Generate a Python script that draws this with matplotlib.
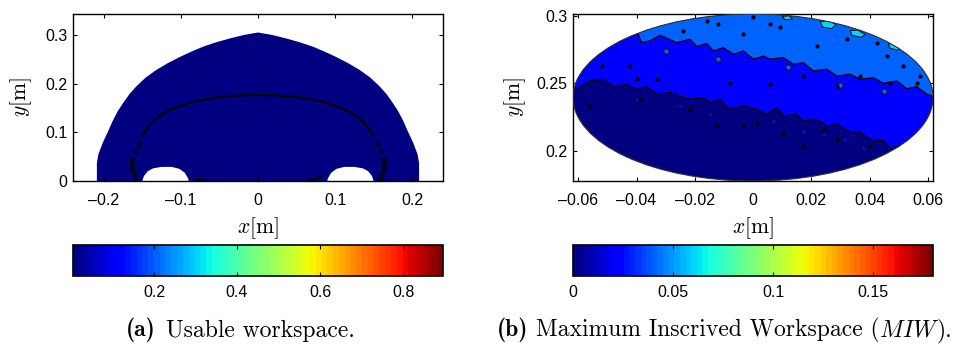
import matplotlib as mpl
import matplotlib.pyplot as plt
from matplotlib.patches import Polygon, Circle
from matplotlib.colors import Normalize
from matplotlib.cm import ScalarMappable
from matplotlib.ticker import FuncFormatter

plt.rcParams['font.family'] = ['Liberation Sans', 'DejaVu Sans']
plt.rcParams['mathtext.fontset'] = 'cm'
plt.rcParams['font.size'] = 11.5

jet = mpl.colormaps['jet'].resampled(64)

# ---------------- (a) usable workspace ----------------
# left half of the outer boundary (mirrored for the right half)
ws_outline_x = [-0.209, -0.209, -0.207, -0.2017, -0.198, -0.195, -0.188, -0.182, -0.175, -0.167,
                -0.158, -0.146, -0.132, -0.117, -0.101, -0.086, -0.071, -0.054, -0.036, -0.018, 0.0]
ws_outline_y = [0.0, 0.037, 0.055, 0.077, 0.090, 0.100, 0.125, 0.143, 0.160, 0.178,
                0.194, 0.212, 0.228, 0.242, 0.255, 0.266, 0.276, 0.285, 0.293, 0.300, 0.305]
# left hole at the base (mirrored for the right one)
hole_x = [-0.150, -0.148, -0.143, -0.136, -0.125, -0.112, -0.102, -0.095, -0.0905, -0.090]
hole_y = [0.0, 0.010, 0.020, 0.026, 0.029, 0.029, 0.025, 0.017, 0.005, 0.0]
# left half of the ring of singular points
ring_x = [-0.158, -0.161, -0.163, -0.164, -0.163, -0.160, -0.155, -0.150, -0.142, -0.132,
          -0.118, -0.100, -0.084, -0.060, -0.041, -0.020, 0.0]
ring_y = [0.005, 0.015, 0.025, 0.035, 0.045, 0.062, 0.077, 0.094, 0.112, 0.128,
          0.143, 0.155, 0.163, 0.170, 0.174, 0.176, 0.1766]
# short marks on the base
foot_x = [[-0.080, -0.073, -0.066], [0.066, 0.074, 0.082]]
foot_y = [[0.004, 0.002, 0.0], [0.0, 0.004, 0.009]]
ws_value = 0.005
ws_clim = (0.005, 0.896)
ws_xticks = [-0.2, -0.1, 0, 0.1, 0.2]
ws_yticks = [0, 0.1, 0.2, 0.3]
ws_cticks = [0.2, 0.4, 0.6, 0.8]

# ---------------- (b) maximum inscribed workspace ----------------
miw_center = (0.0, 0.2395)
miw_radius = 0.0618
miw_levels = [0.0, 0.02, 0.04, 0.06]
miw_clim = (0.0, 0.18)
# contour between level 0 and 0.02
b1_x = [-0.066, -0.0600, -0.0560, -0.0514, -0.0480, -0.0434, -0.0400, -0.0366, -0.0331, -0.0285,
        -0.0251, -0.0216, -0.0171, -0.0148, -0.0113, -0.0079, -0.0033, 0.0013, 0.0047, 0.0081,
        0.0104, 0.0150, 0.0173, 0.0219, 0.0253, 0.0288, 0.0322, 0.0368, 0.0402, 0.0448,
        0.0471, 0.0516, 0.0562, 0.0608, 0.066]
b1_y = [0.2465, 0.2468, 0.2517, 0.2530, 0.2475, 0.2493, 0.2456, 0.2475, 0.2419, 0.2431,
        0.2406, 0.2381, 0.2394, 0.2357, 0.2381, 0.2307, 0.2332, 0.2307, 0.2270, 0.2320,
        0.2258, 0.2270, 0.2221, 0.2233, 0.2184, 0.2196, 0.2147, 0.2135, 0.2085, 0.2073,
        0.2023, 0.2036, 0.1974, 0.1937, 0.1900]
# contour between level 0.02 and 0.04
b2_x = [-0.045, -0.0394, -0.0383, -0.0354, -0.0319, -0.0262, -0.0216, -0.0193, -0.0159, -0.0136,
        -0.0102, -0.0067, -0.0033, 0.0001, 0.0035, 0.0058, 0.0104, 0.0139, 0.0173, 0.0207,
        0.0253, 0.0288, 0.0333, 0.0368, 0.0413, 0.0448, 0.0494, 0.0528, 0.0562, 0.0597,
        0.0631, 0.066]
b2_y = [0.2900, 0.2863, 0.2801, 0.2814, 0.2856, 0.2801, 0.2826, 0.2772, 0.2796, 0.2740,
        0.2764, 0.2715, 0.2740, 0.2678, 0.2702, 0.2678, 0.2690, 0.2641, 0.2653, 0.2591,
        0.2604, 0.2554, 0.2567, 0.2530, 0.2542, 0.2500, 0.2517, 0.2460, 0.2475, 0.2419,
        0.2394, 0.2370]
# patches at level 0.06
cyan_patches = [
    ([0.023, 0.026, 0.0285, 0.027, 0.024], [0.2955, 0.2965, 0.2935, 0.2905, 0.2915]),
    ([0.0333, 0.036, 0.0385, 0.037, 0.034], [0.2890, 0.2895, 0.2860, 0.2840, 0.2855]),
    ([0.0465, 0.049, 0.051, 0.0495, 0.047], [0.2790, 0.2800, 0.2770, 0.2745, 0.2760]),
    ([0.0100, 0.0125, 0.0135, 0.011], [0.2995, 0.3000, 0.2975, 0.2970]),
]
# small closed contours (noise)
dots_x = [-0.052, -0.0423, -0.0239, -0.0159, -0.0119, -0.0033, 0.0001, 0.0058, 0.0093, 0.0219,
          0.0322, 0.0425, 0.0459, 0.0516, 0.0574, -0.040, -0.0331, -0.0079, 0.0058, 0.0173,
          0.0288, 0.0368, 0.047, 0.0562, -0.0033, -0.0125, 0.0173, 0.0288, 0.040, -0.056,
          -0.0388, -0.0216, 0.0013, 0.0104, 0.0242]
dots_y = [0.2628, 0.2628, 0.2887, 0.2961, 0.2937, 0.2863, 0.2987, 0.2937, 0.2913, 0.2776,
          0.2826, 0.2801, 0.2702, 0.2628, 0.2554, 0.2530, 0.2530, 0.2505, 0.2493, 0.2554,
          0.2480, 0.2554, 0.2505, 0.2505, 0.2184, 0.2184, 0.2036, 0.2085, 0.2036, 0.2332,
          0.2381, 0.2307, 0.2209, 0.2135, 0.2159]
# level-0.02 islands inside the lowest band
isl1_x = [0.0070, 0.0173, 0.0242, 0.0311, 0.0379, -0.0148, -0.0251, -0.040]
isl1_y = [0.2221, 0.2147, 0.2122, 0.2085, 0.2023, 0.2270, 0.2332, 0.2381]
# level-0.04 islands inside the second band
isl2_x = [-0.030, -0.012, 0.012, 0.030, 0.045]
isl2_y = [0.2740, 0.2680, 0.2620, 0.2490, 0.2440]
miw_xticks = [-0.06, -0.04, -0.02, 0, 0.02, 0.04, 0.06]
miw_yticks = [0.2, 0.25, 0.3]
miw_cticks = [0, 0.05, 0.1, 0.15]

fmt = FuncFormatter(lambda v, p: f'{v:g}'.replace('-', '\u2013'))

fig = plt.figure(figsize=(9.77, 3.47), dpi=100)
ax1 = fig.add_axes([0.0747, 0.4784, 0.3787, 0.4813])
ax2 = fig.add_axes([0.5865, 0.4784, 0.3685, 0.4813])
cax1 = fig.add_axes([0.0747, 0.2055, 0.3787, 0.0885])
cax2 = fig.add_axes([0.5865, 0.2055, 0.3685, 0.0885])

# ---- panel (a)
ws_norm = Normalize(*ws_clim)
fx = ws_outline_x + [-v for v in reversed(ws_outline_x[:-1])]
fy = ws_outline_y + list(reversed(ws_outline_y[:-1]))
ax1.add_patch(Polygon(list(zip(fx, fy)), closed=True, facecolor=jet(ws_norm(ws_value)),
                      edgecolor='none', zorder=1))
for sx in (1, -1):
    hx = [sx * v for v in hole_x]
    ax1.add_patch(Polygon(list(zip(hx, hole_y)), closed=True, facecolor='white',
                          edgecolor='none', zorder=2))
rx = ring_x + [-v for v in reversed(ring_x[:-1])]
ry = ring_y + list(reversed(ring_y[:-1]))
upper = [i for i, v in enumerate(ry) if v >= 0.09]
lower = [i for i, v in enumerate(ry) if v < 0.09]
ax1.plot([rx[i] for i in upper], [ry[i] for i in upper], '-', color='black', lw=1.5, zorder=3)
ax1.plot([rx[i] for i in lower], [ry[i] for i in lower], 'o', ms=3.2, mfc='#000040',
         mec='black', mew=0.6, zorder=4)
for fxs, fys in zip(foot_x, foot_y):
    ax1.plot(fxs, fys, color='black', lw=1.6, zorder=3)
ax1.set_xlim(-0.24, 0.24)
ax1.set_ylim(0, 0.343)
ax1.set_xticks(ws_xticks)
ax1.set_yticks(ws_yticks)

# ---- panel (b)
miw_norm = Normalize(*miw_clim)
base = Circle(miw_center, miw_radius, facecolor=jet(miw_norm(miw_levels[0])),
              edgecolor='none', zorder=1)
ax2.add_patch(base)
top = miw_center[1] + 2 * miw_radius
p1 = Polygon(list(zip(b1_x, b1_y)) + [(b1_x[-1], top), (b1_x[0], top)], closed=True,
             facecolor=jet(miw_norm(miw_levels[1])), edgecolor='none', zorder=2)
p2 = Polygon(list(zip(b2_x, b2_y)) + [(b2_x[-1], top), (b2_x[0], top)], closed=True,
             facecolor=jet(miw_norm(miw_levels[2])), edgecolor='none', zorder=3)
for p in (p1, p2):
    ax2.add_patch(p)
    p.set_clip_path(base)
for cx, cy in cyan_patches:
    pc = Polygon(list(zip(cx, cy)), closed=True, facecolor=jet(miw_norm(miw_levels[3])),
                 edgecolor='black', lw=0.7, zorder=4)
    ax2.add_patch(pc)
    pc.set_clip_path(base)
clipped = []
for bx, by in ((b1_x, b1_y), (b2_x, b2_y)):
    clipped += ax2.plot(bx, by, color='black', lw=0.9, zorder=5, solid_joinstyle='round')
clipped += ax2.plot(isl1_x, isl1_y, 'o', ms=4, mfc=jet(miw_norm(miw_levels[1])), mec='black',
                    mew=0.7, zorder=6)
clipped += ax2.plot(isl2_x, isl2_y, 'o', ms=4, mfc=jet(miw_norm(miw_levels[2])), mec='black',
                    mew=0.7, zorder=6)
clipped += ax2.plot(dots_x, dots_y, 'o', ms=2.0, color='black', zorder=6)
for art in clipped:
    art.set_clip_path(base)
ax2.add_patch(Circle(miw_center, miw_radius, fill=False, edgecolor='0.2', lw=0.8, zorder=7))
ax2.set_xlim(miw_center[0] - miw_radius, miw_center[0] + miw_radius)
ax2.set_ylim(miw_center[1] - miw_radius, miw_center[1] + miw_radius)
ax2.set_xticks(miw_xticks)
ax2.set_yticks(miw_yticks)

for ax, ylx in ((ax1, -0.139), (ax2, -0.161)):
    ax.xaxis.set_major_formatter(fmt)
    ax.yaxis.set_major_formatter(fmt)
    ax.tick_params(direction='in', top=True, right=True, length=3, width=0.8)
    ax.tick_params(axis='x', pad=9)
    ax.tick_params(axis='y', pad=4)
    for s in ax.spines.values():
        s.set_linewidth(1.0)
    ax.set_xlabel(r'$x[\mathrm{m}]$', fontsize=15.5)
    ax.set_ylabel(r'$y[\mathrm{m}]$', fontsize=15.5)
    ax.xaxis.set_label_coords(0.5, -0.28)
    ax.xaxis.label.set_va('center')
    ax.yaxis.set_label_coords(ylx, 0.5)
    ax.yaxis.label.set_va('center')

# ---- colorbars
for cax, norm, ticks in ((cax1, ws_norm, ws_cticks), (cax2, miw_norm, miw_cticks)):
    cb = fig.colorbar(ScalarMappable(norm=norm, cmap=jet), cax=cax, orientation='horizontal')
    cb.set_ticks(ticks)
    cb.ax.xaxis.set_major_formatter(fmt)
    cb.ax.tick_params(direction='in', top=True, bottom=True, length=3, width=0.8, pad=7)
    cb.outline.set_linewidth(1.2)

# ---- captions (Computer Modern pieces laid out left to right)
renderer = fig.canvas.get_renderer()


def caption(x_px, pieces, size=17, base_px=336.5):
    x = x_px
    for txt, fam, gap in pieces:
        t = fig.text(x / fig.bbox.width, 1 - base_px / fig.bbox.height, txt, family=fam,
                     fontsize=size, ha='left', va='baseline')
        x += t.get_window_extent(renderer).width + gap


caption(126, [('(a)', 'cmb10', 10), ('Usable workspace.', 'cmr10', 0)])
caption(497, [('(b)', 'cmb10', 8), ('Maximum Inscrived Workspace (', 'cmr10', 0),
              ('MIW', 'cmmi10', 1), (').', 'cmr10', 0)])

fig.savefig('out.png', dpi=100)
